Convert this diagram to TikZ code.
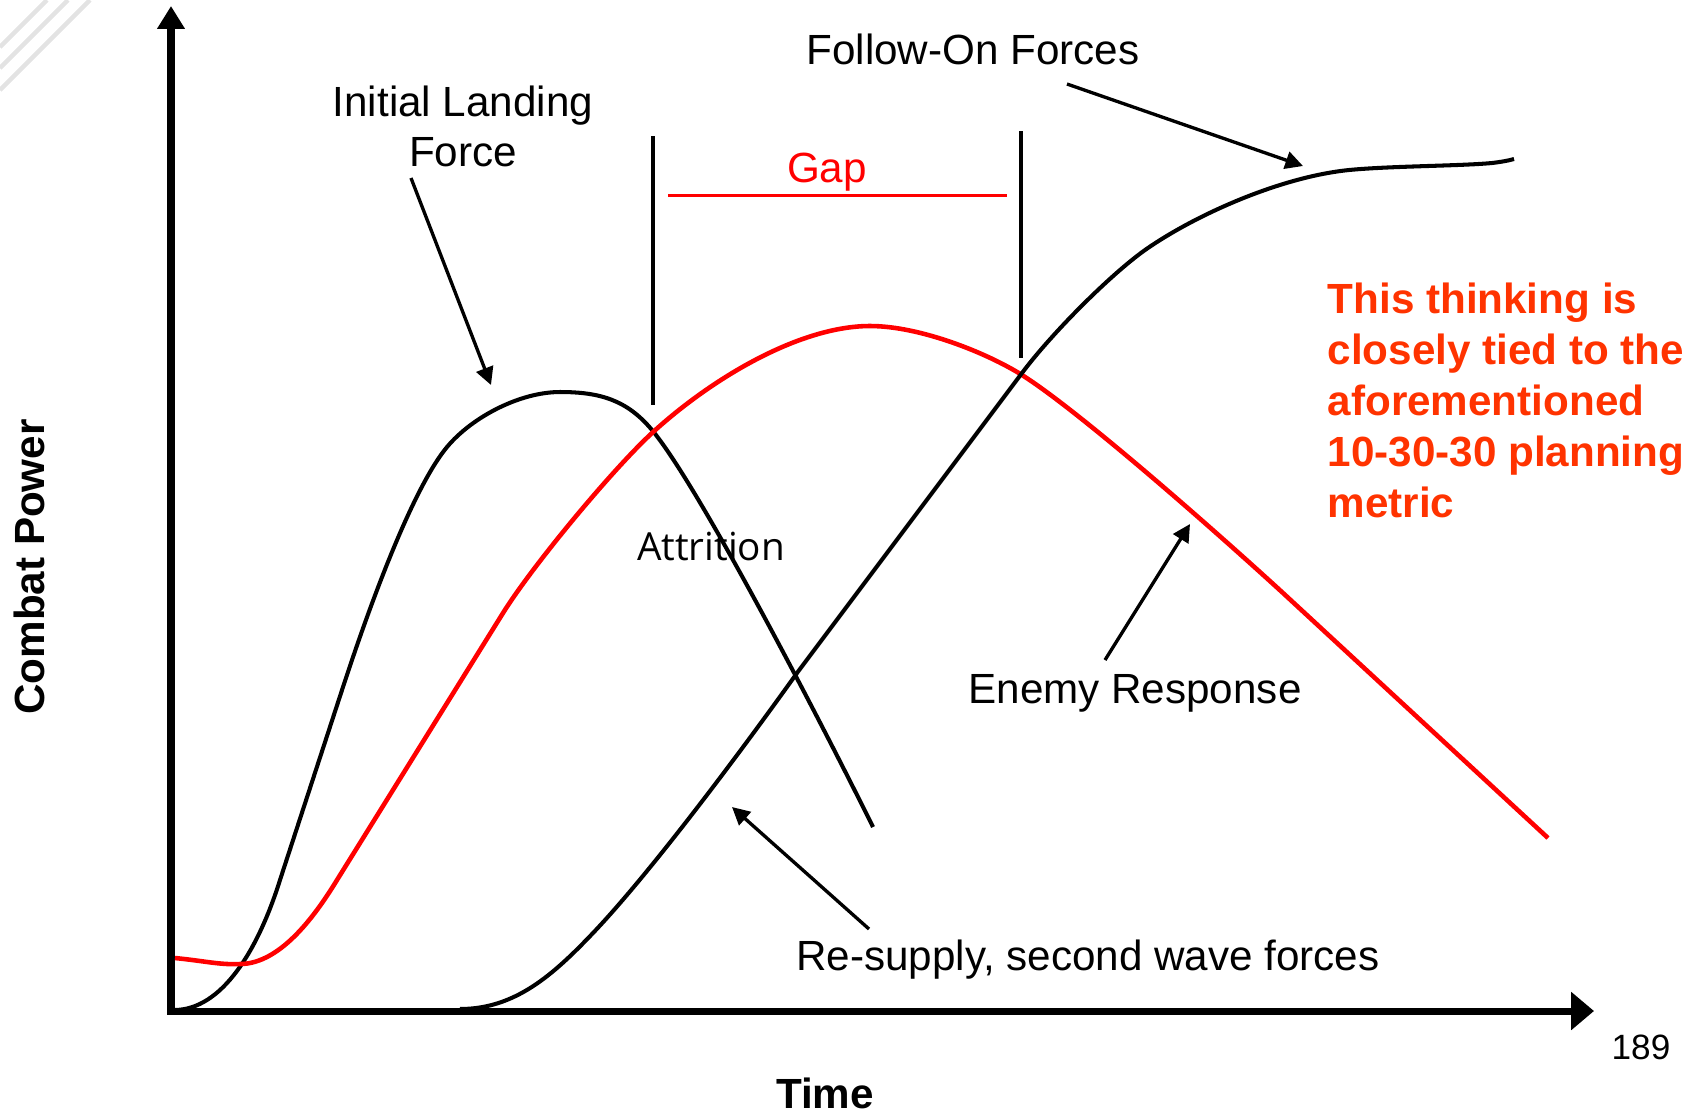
\documentclass[tikz,border=0pt]{standalone}
\usepackage{fontspec}
\setmainfont{Liberation Sans}
\newfontfamily\attrfont{Open Sans}
\usetikzlibrary{arrows.meta}
\definecolor{notered}{RGB}{255,51,0}
\begin{document}
\begin{tikzpicture}[x=0.01cm, y=-0.01cm,
axisline/.style={line width=2pt},
trace/.style={line width=1.15pt},
pointer/.style={line width=0.95pt, -{Triangle[length=5pt,width=5pt]}},
marker/.style={line width=0.9pt},
txt/.style={font=\fontsize{12}{14.5}\selectfont, inner sep=0pt, anchor=base},
]
\useasboundingbox (0,0) rectangle (1703,1114);

% faint corner strokes
\foreach \c in {47,68,90}
  \draw[gray!22, line width=1.3pt] (0,\c) -- (\c,0);

% axes
\coordinate (origin) at (171,1011);
\coordinate (ytip) at (171,6);
\coordinate (xtip) at (1594,1011);
\draw[axisline, -{Triangle[length=6.5pt,width=7.5pt]}] (171,1014) -- (ytip);
\draw[axisline, -{Triangle[length=6.5pt,width=10.5pt]}] (167,1011) -- (xtip);
\node[txt, font=\fontsize{12}{14.5}\selectfont\bfseries, anchor=center, rotate=90] (power) at (29,567) {Combat Power};
\node[txt, font=\fontsize{12}{14.5}\selectfont\bfseries] (time) at (825,1108) {Time};
\node[txt, font=\fontsize{10}{12}\selectfont] (page) at (1641,1059) {189};

% initial landing force
\draw[trace] (174,1010) .. controls (222,1010) and (258,950) .. (280,880)
  -- (343,687) .. controls (378,580) and (417,483) .. (447,447)
  .. controls (472,417) and (520,392) .. (560,392)
  .. controls (600,392) and (627,400) .. (652,430)
  .. controls (702,490) and (833,746) .. (873,827);

% enemy response
\draw[trace, red, line width=1.3pt] (175,958) .. controls (205,961) and (220,965) .. (240,964)
  .. controls (282,964) and (318,911) .. (337,880) -- (503,613)
  .. controls (533,565) and (612,470) .. (652,433)
  .. controls (712,378) and (800,326) .. (870,326)
  .. controls (920,326) and (987,353) .. (1022,375)
  .. controls (1082,413) and (1223,538) .. (1283,593) -- (1548,838);

% follow-on forces
\draw[trace] (460,1009) .. controls (515,1009) and (553,975) .. (593,933)
  .. controls (653,870) and (747,743) .. (797,673) -- (1022,373)
  .. controls (1052,333) and (1110,275) .. (1145,250)
  .. controls (1195,215) and (1280,177) .. (1349,170)
  .. controls (1390,166) and (1460,166) .. (1492,163)
  .. controls (1500,162) and (1507,161) .. (1514,159);

% gap
\draw[marker] (653,136) -- (653,405);
\draw[marker] (1021,131) -- (1021,358);
\coordinate (gapl) at (668,195.5);
\coordinate (gapr) at (1007,195.5);
\draw[red, line width=0.9pt] (gapl) -- (gapr);
\node[txt, red] (gap) at (827,182) {Gap};

% labels
\node[txt] (ilf) at (463,116) {Initial Landing};
\node[txt] (ilf2) at (463,166) {Force};
\coordinate (ilfa) at (411,178);
\coordinate (ilfb) at (491,385);
\draw[pointer] (ilfa) -- (ilfb);

\node[txt] (fof) at (973,64) {Follow-On Forces};
\coordinate (fofa) at (1067,84);
\coordinate (fofb) at (1303,166);
\draw[pointer] (fofa) -- (fofb);

\node[txt, font=\attrfont\fontsize{11}{14}\selectfont] (attr) at (711,560) {Attrition};

\node[txt] (enemy) at (1135,703) {Enemy Response};
\coordinate (enema) at (1105,660);
\coordinate (enemb) at (1190,524);
\draw[pointer] (enema) -- (enemb);

\node[txt] (resup) at (1088,970) {Re-supply, second wave forces};
\coordinate (resa) at (869,929);
\coordinate (resb) at (732,807);
\draw[pointer] (resa) -- (resb);

\node[txt, notered, font=\fontsize{12}{14.55}\selectfont\bfseries, align=left, anchor=north west] (note) at (1327,282)
  {This thinking is\\closely tied to the\\aforementioned\\10-30-30 planning\\metric};
\end{tikzpicture}
\end{document}
